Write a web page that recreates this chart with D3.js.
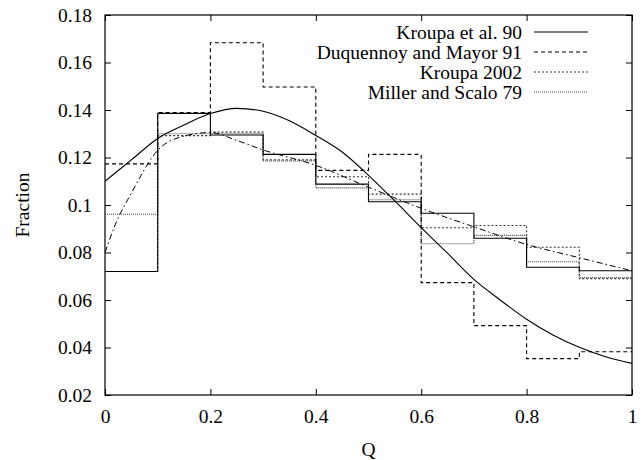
<!DOCTYPE html>
<html>
<head>
<meta charset="utf-8">
<script src="https://cdn.jsdelivr.net/npm/d3@7/dist/d3.min.js"></script>
<style>
  body { margin: 0; background: #fff; }
  svg text { font-family: "Liberation Serif", "DejaVu Serif", "Times New Roman", Times, serif !important; fill: #000; }
</style>
</head>
<body>
<svg id="chart" width="644" height="460"></svg>
<script>
// bin left edges (width 0.1)
var binStarts = [0, 0.1, 0.2, 0.3, 0.4, 0.5, 0.6, 0.7, 0.8, 0.9];

// histogram fractions
var kroupa90   = [0.0720, 0.1386, 0.1295, 0.1213, 0.1088, 0.1014, 0.0965, 0.0860, 0.0738, 0.0723];
var duquennoy  = [0.1173, 0.1389, 0.1683, 0.1497, 0.1146, 0.1213, 0.0673, 0.0492, 0.0353, 0.0382];
var kroupa2002 = [0.0720, 0.1292, 0.1307, 0.1190, 0.1119, 0.1046, 0.0904, 0.0914, 0.0822, 0.0690];
var miller     = [0.0961, 0.1300, 0.1300, 0.1185, 0.1072, 0.1022, 0.0837, 0.0872, 0.0761, 0.0695];

// smooth curves, sampled from the plot
var fitQ  = [0, 0.05, 0.1, 0.15, 0.2, 0.25, 0.3, 0.35, 0.4, 0.45, 0.5, 0.55, 0.6, 0.65, 0.7, 0.75, 0.8, 0.85, 0.9, 0.95, 1.0];
var fitK90 = [0.110, 0.119, 0.128, 0.1337, 0.1385, 0.1407, 0.1395, 0.1355, 0.1293, 0.1223, 0.1125, 0.1017, 0.0905, 0.0797, 0.0687, 0.0600, 0.0519, 0.0453, 0.0401, 0.0361, 0.0333];

var ipQ  = [0, 0.02, 0.05, 0.1, 0.15, 0.2, 0.25, 0.3, 0.4, 0.5, 0.6, 0.7, 0.8, 0.9, 1.0];
var ipV  = [0.080, 0.092, 0.105, 0.123, 0.129, 0.1305, 0.1272, 0.1232, 0.1167, 0.1075, 0.0986, 0.0908, 0.0834, 0.0778, 0.0723];

var xTicks = [0, 0.2, 0.4, 0.6, 0.8, 1];
var yTicks = [0.02, 0.04, 0.06, 0.08, 0.1, 0.12, 0.14, 0.16, 0.18];

var series = [
    { name: "Kroupa et al. 90",     values: kroupa90,   dash: null,  color: "#000" },
    { name: "Duquennoy and Mayor 91", values: duquennoy, dash: "4,3", color: "#000" },
    { name: "Kroupa 2002",          values: kroupa2002, dash: "2,2", color: "#333" },
    { name: "Miller and Scalo 79",  values: miller,     dash: "1,1", color: "#444" }
];

var drawChart = function () {
    let svg = d3.select("#chart"),
        cs = {
            left: 105, right: 632, top: 15, bottom: 395,
            tick: 6,
            font: 19.5,
            family: "'Liberation Serif', 'DejaVu Serif', 'Times New Roman', serif"
        };

    cs.x = d3.scaleLinear().domain([0, 1]).range([cs.left, cs.right]);
    cs.y = d3.scaleLinear().domain([0.02, 0.18]).range([cs.bottom, cs.top]);

    // axes (ticks pointing inward, mirrored)
    let axB = d3.axisBottom(cs.x).tickValues(xTicks).tickSizeInner(-cs.tick).tickSizeOuter(0)
            .tickPadding(14).tickFormat(d3.format("")),
        axT = d3.axisTop(cs.x).tickValues(xTicks).tickSizeInner(-cs.tick).tickSizeOuter(0).tickFormat(""),
        axL = d3.axisLeft(cs.y).tickValues(yTicks).tickSizeInner(-cs.tick).tickSizeOuter(0)
            .tickPadding(13).tickFormat(d3.format("")),
        axR = d3.axisRight(cs.y).tickValues(yTicks).tickSizeInner(-cs.tick).tickSizeOuter(0).tickFormat("");

    [[axB, "translate(0," + cs.bottom + ")"], [axT, "translate(0," + cs.top + ")"],
     [axL, "translate(" + cs.left + ",0)"], [axR, "translate(" + cs.right + ",0)"]].forEach(a => {
        let g = svg.append("g").attr("transform", a[1]).call(a[0]);
        g.attr("font-family", cs.family).attr("font-size", cs.font);
        g.select(".domain").remove();
        g.selectAll("line").attr("stroke", "#000");
        g.selectAll("text").attr("font-size", cs.font).attr("font-family", cs.family);
    });

    svg.append("rect")
        .attr("x", cs.left).attr("y", cs.top)
        .attr("width", cs.right - cs.left).attr("height", cs.bottom - cs.top)
        .attr("fill", "none").attr("stroke", "#000").attr("stroke-width", 1.2);

    // histograms
    let step = d3.line().curve(d3.curveStepAfter)
        .x(d => cs.x(d[0])).y(d => cs.y(d[1]));

    svg.append("clipPath").attr("id", "plotclip").append("rect")
        .attr("x", cs.left).attr("y", cs.top)
        .attr("width", cs.right - cs.left).attr("height", cs.bottom - cs.top);

    let plot = svg.append("g").attr("clip-path", "url(#plotclip)");

    series.slice().reverse().forEach(s => {
        let pts = binStarts.map((b, i) => [b, s.values[i]]);
        pts.push([1, s.values[s.values.length - 1]]);
        plot.append("path")
            .datum(pts)
            .attr("fill", "none")
            .attr("stroke", s.color)
            .attr("stroke-width", 1.1)
            .attr("stroke-dasharray", s.dash)
            .attr("d", step);
    });

    // smooth curves
    let smooth = d3.line().curve(d3.curveMonotoneX)
        .x(d => cs.x(d[0])).y(d => cs.y(d[1]));

    plot.append("path")
        .datum(fitQ.map((q, i) => [q, fitK90[i]]))
        .attr("fill", "none").attr("stroke", "#000").attr("stroke-width", 1.1)
        .attr("d", smooth);

    plot.append("path")
        .datum(ipQ.map((q, i) => [q, ipV[i]]))
        .attr("fill", "none").attr("stroke", "#000").attr("stroke-width", 1)
        .attr("stroke-dasharray", "6,3,1.5,3")
        .attr("d", smooth);

    // legend
    let lg = svg.append("g").attr("font-family", cs.family);
    series.forEach((s, i) => {
        let yy = 32 + i * 20;
        lg.append("text")
            .attr("x", 522).attr("y", yy)
            .attr("dy", "0.35em")
            .attr("text-anchor", "end")
            .attr("font-size", cs.font)
            .text(s.name);
        lg.append("line")
            .attr("x1", 534).attr("x2", 588)
            .attr("y1", yy).attr("y2", yy)
            .attr("stroke", s.color).attr("stroke-width", 1.1)
            .attr("stroke-dasharray", s.dash);
    });

    // axis titles
    svg.append("text")
        .attr("x", (cs.left + cs.right) / 2).attr("y", 456)
        .attr("text-anchor", "middle").attr("font-size", cs.font)
        .attr("font-family", cs.family)
        .text("Q");
    svg.append("text")
        .attr("transform", "translate(29," + ((cs.top + cs.bottom) / 2) + ") rotate(-90)")
        .attr("text-anchor", "middle").attr("font-size", cs.font)
        .attr("font-family", cs.family)
        .text("Fraction");
};

drawChart();
</script>
</body>
</html>
